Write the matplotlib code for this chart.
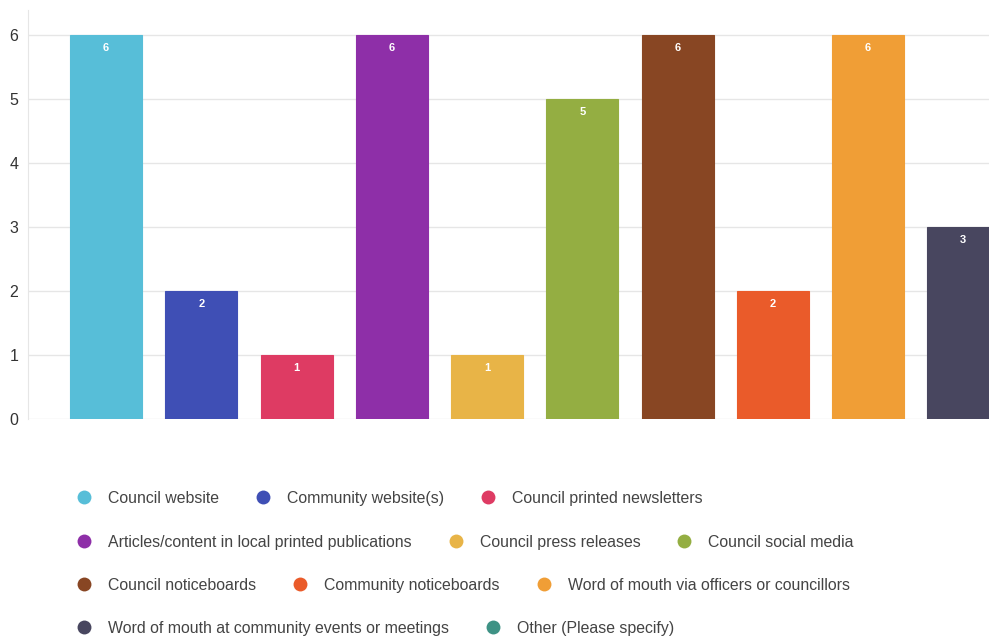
import matplotlib.pyplot as plt
from matplotlib.lines import Line2D
import numpy as np

plt.rcParams['font.family'] = ['Liberation Sans', 'DejaVu Sans']

# 各渠道的回答数量
categories = ['Council website', 'Community website(s)', 'Council printed newsletters',
              'Articles/content in local printed publications', 'Council press releases',
              'Council social media', 'Council noticeboards', 'Community noticeboards',
              'Word of mouth via officers or councillors',
              'Word of mouth at community events or meetings', 'Other (Please specify)']
counts = [6, 2, 1, 6, 1, 5, 6, 2, 6, 3, 0]
colors = ['#57BED8', '#3F4FB5', '#DE3B63', '#8E2FA8', '#E8B447', '#94AE42',
          '#884623', '#EA5B2A', '#F09E36', '#48465F', '#3E9285']
legend_rows = [[0, 1, 2], [3, 4, 5], [6, 7, 8], [9, 10]]

fig = plt.figure(figsize=(9.89, 6.39), dpi=100)
ax = fig.add_axes([28 / 989, 220 / 639, 1 - 28 / 989, 409 / 639])

x = np.arange(len(categories))
bars = ax.bar(x, counts, width=0.755, color=colors, edgecolor=colors, linewidth=0.8, zorder=2)
for b, v in zip(bars, counts):
    if v > 0:
        ax.text(b.get_x() + b.get_width() / 2, v - 0.2, str(v), ha='center', va='center',
                color='white', fontsize=8, fontweight='bold', zorder=3)

ax.set_xlim(-0.82, 9.27)
ax.set_ylim(0, 6.39)
ax.set_yticks(range(7))
ax.set_xticks([])
ax.grid(axis='y', color='#e6e6e6', linewidth=1, zorder=0)
ax.tick_params(axis='y', length=0, pad=7, labelsize=11.5, labelcolor='#333333')
for s in ['top', 'right', 'bottom']:
    ax.spines[s].set_visible(False)
ax.spines['left'].set_color('#e6e6e6')

# 图例：按行流式排列
fig.canvas.draw()
renderer = fig.canvas.get_renderer()
row_y = [497, 541, 584, 627]
for r, row in enumerate(legend_rows):
    px = 84
    ypos = 1 - row_y[r] / 639
    for i in row:
        fig.add_artist(Line2D([px / 989], [ypos], transform=fig.transFigure, marker='o',
                              markersize=10, color=colors[i], markeredgewidth=0, linestyle='none'))
        t = fig.text((px + 24) / 989, ypos, categories[i], ha='left', va='center_baseline',
                     fontsize=11.4, color='#444444')
        w = t.get_window_extent(renderer).width
        px = px + 24 + w + 44

fig.savefig('out.png', dpi=100)
